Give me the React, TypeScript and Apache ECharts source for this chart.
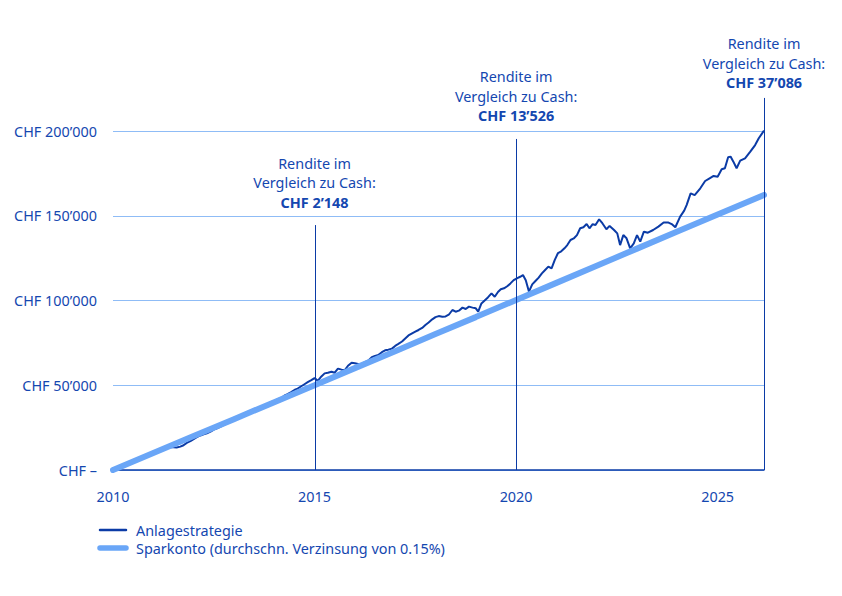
import React, { useEffect, useRef } from "react";
import * as echarts from "echarts";

const FONT = '"Noto Sans", "Open Sans", sans-serif';
const FS = 14.4;
const TEXT_COLOR = "#1447b0";
const DARK = "#0b3ba6";
const LIGHT = "#6aa6f7";
const GRID = "#8fbcf6";

const xTicks = [2010, 2015, 2020, 2025];
const yTicks = [0, 50000, 100000, 150000, 200000];

// Anlagestrategie: [year, CHF thousand]
const anlagestrategie: [number, number][] = [
  [2010.0, 0], [2010.08, 0.9], [2010.17, 1.7], [2010.25, 2.4], [2010.33, 3.1], [2010.42, 4.0],
  [2010.5, 4.8], [2010.58, 5.8], [2010.67, 6.6], [2010.75, 7.6], [2010.83, 8.3], [2010.92, 9.0],
  [2011.0, 10.0], [2011.08, 10.9], [2011.17, 11.6], [2011.25, 12.5], [2011.33, 13.2], [2011.42, 13.6],
  [2011.5, 13.4], [2011.58, 13.3], [2011.67, 13.8], [2011.75, 14.6], [2011.83, 16.0], [2011.92, 17.0],
  [2012.0, 18.2], [2012.08, 19.4], [2012.17, 20.4], [2012.25, 21.0], [2012.33, 21.6], [2012.42, 22.6],
  [2012.5, 23.8], [2012.58, 24.6], [2012.67, 25.6], [2012.75, 26.6], [2012.83, 27.4], [2012.92, 28.5],
  [2013.0, 29.8], [2013.08, 30.8], [2013.17, 31.8], [2013.25, 33.0], [2013.33, 34.2], [2013.42, 34.6],
  [2013.5, 34.8], [2013.58, 35.8], [2013.67, 36.8], [2013.75, 37.8], [2013.83, 39.0], [2013.92, 40.0],
  [2014.0, 40.8], [2014.08, 41.6], [2014.17, 42.6], [2014.25, 43.8], [2014.33, 44.8], [2014.42, 46.0],
  [2014.5, 47.2], [2014.58, 48.0], [2014.67, 49.4], [2014.75, 50.6], [2014.83, 51.8], [2014.92, 53.0],
  [2015.0, 54.2], [2015.08, 52.6], [2015.17, 55.2], [2015.25, 57.0], [2015.33, 57.4], [2015.42, 58.0],
  [2015.5, 57.4], [2015.58, 59.8], [2015.67, 59.2], [2015.75, 59.0], [2015.83, 61.5], [2015.92, 63.3],
  [2016.0, 63.0], [2016.08, 62.6], [2016.17, 62.5], [2016.25, 63.6], [2016.33, 64.5], [2016.42, 66.5],
  [2016.5, 67.3], [2016.58, 67.8], [2016.67, 69.5], [2016.75, 70.6], [2016.83, 71.0], [2016.92, 71.6],
  [2017.0, 73.2], [2017.08, 74.4], [2017.17, 75.8], [2017.25, 77.6], [2017.33, 79.4], [2017.42, 80.6],
  [2017.5, 81.6], [2017.58, 82.6], [2017.67, 83.8], [2017.75, 85.5], [2017.83, 87.0], [2017.92, 88.9],
  [2018.0, 90.2], [2018.08, 90.8], [2018.17, 90.4], [2018.25, 90.6], [2018.33, 91.6], [2018.42, 94.4],
  [2018.5, 93.4], [2018.58, 94.0], [2018.67, 95.8], [2018.75, 95.0], [2018.83, 96.4], [2018.92, 95.8],
  [2019.0, 95.4], [2019.06, 93.4], [2019.14, 98.3], [2019.22, 100.0], [2019.3, 101.8], [2019.39, 104.2],
  [2019.47, 102.2], [2019.55, 105.0], [2019.62, 106.6], [2019.7, 107.2], [2019.78, 108.4], [2019.86, 110.1],
  [2019.94, 112.0], [2020.02, 113.1], [2020.1, 114.0], [2020.17, 115.0], [2020.24, 112.0], [2020.32, 105.2],
  [2020.4, 109.5], [2020.48, 111.5], [2020.56, 113.5], [2020.64, 116.0], [2020.72, 118.0], [2020.8, 120.0],
  [2020.88, 119.0], [2020.96, 124.0], [2021.04, 128.0], [2021.12, 129.0], [2021.2, 130.8], [2021.27, 132.7],
  [2021.35, 135.7], [2021.43, 136.6], [2021.51, 138.6], [2021.59, 142.6], [2021.67, 143.2], [2021.75, 145.1],
  [2021.82, 142.6], [2021.9, 145.0], [2021.97, 144.5], [2022.06, 147.9], [2022.14, 145.6], [2022.24, 142.0],
  [2022.32, 144.0], [2022.43, 141.6], [2022.51, 139.6], [2022.58, 132.7], [2022.66, 138.6], [2022.74, 136.7],
  [2022.83, 130.8], [2022.92, 133.7], [2023.0, 138.6], [2023.08, 134.7], [2023.17, 140.6], [2023.27, 140.0],
  [2023.4, 141.6], [2023.53, 143.6], [2023.66, 146.0], [2023.78, 146.0], [2023.86, 145.1], [2023.95, 143.2],
  [2024.07, 149.5], [2024.17, 153.0], [2024.23, 156.3], [2024.33, 163.2], [2024.43, 162.2], [2024.57, 166.2],
  [2024.69, 170.5], [2024.8, 172.1], [2024.9, 173.5], [2025.0, 173.0], [2025.1, 177.4], [2025.18, 178.0],
  [2025.26, 184.5], [2025.32, 184.9], [2025.39, 181.9], [2025.47, 178.0], [2025.56, 182.5], [2025.68, 183.9],
  [2025.81, 187.8], [2025.93, 191.7], [2026.02, 195.7], [2026.15, 200.2],
];

// Sparkonto: [year, CHF thousand]
const sparkonto: [number, number][] = [
  [2010, 0], [2011, 10.0], [2012, 20.0], [2013, 30.0], [2014, 40.0], [2015, 50.0],
  [2016, 60.1], [2017, 70.1], [2018, 80.2], [2019, 90.2], [2020, 100.3], [2021, 110.4],
  [2022, 120.5], [2023, 130.6], [2024, 140.7], [2025, 150.8], [2026.15, 162.3],
];

const seriesNames = ["Anlagestrategie", "Sparkonto (durchschn. Verzinsung von 0.15%)"];

// Annotations
const annoYears = [2015, 2020, 2026.15];
const annoTopValues = [144500, 195300, 219500];
const annoAmounts = ["CHF 2\u2019148", "CHF 13\u2019526", "CHF 37\u2019086"];
const annoGaps = [23, 23, 15];
const annoLine1 = "Rendite im";
const annoLine2 = "Vergleich zu Cash:";

const X_MIN = 2010;
const X_MAX = 2026.15;

function fmtCHF(v: number): string {
  if (v === 0) return "CHF \u2013";
  const s = String(Math.round(v));
  return "CHF " + s.replace(/\B(?=(\d{3})+(?!\d))/g, "\u2019");
}

export default function App() {
  const ref = useRef<HTMLDivElement>(null);

  useEffect(() => {
    document.body.style.margin = "0";
    const chart = echarts.init(ref.current!, null, { renderer: "svg" });
    chart.setOption({
      animation: false,
      textStyle: { fontFamily: FONT },
      grid: { left: 113, right: 78, top: 131, bottom: 126, containLabel: false },
      xAxis: {
        type: "value",
        min: X_MIN,
        max: X_MAX,
        interval: 5,
        axisLine: { show: true, lineStyle: { color: DARK, width: 1.5 } },
        axisTick: { show: false },
        splitLine: { show: false },
        axisLabel: {
          margin: 19,
          fontSize: FS,
          color: TEXT_COLOR,
          fontFamily: FONT,
          formatter: (v: number) => (xTicks.indexOf(v) >= 0 ? String(v) : ""),
        },
      },
      yAxis: {
        type: "value",
        min: yTicks[0],
        max: yTicks[yTicks.length - 1],
        interval: 50000,
        axisLine: { show: false },
        axisTick: { show: false },
        splitLine: { show: true, lineStyle: { color: GRID, width: 1 } },
        axisLabel: {
          margin: 16,
          fontSize: FS,
          color: TEXT_COLOR,
          fontFamily: FONT,
          formatter: (v: number) => fmtCHF(v),
        },
      },
      series: [
        {
          name: seriesNames[0],
          type: "line",
          data: anlagestrategie.map(([x, y]) => [x, y * 1000]),
          showSymbol: false,
          symbol: "none",
          lineStyle: { color: DARK, width: 2 },
          itemStyle: { color: DARK },
          z: 3,
        },
        {
          name: seriesNames[1],
          type: "line",
          data: sparkonto.map(([x, y]) => [x, y * 1000]),
          showSymbol: false,
          symbol: "none",
          lineStyle: { color: LIGHT, width: 6, cap: "round" },
          itemStyle: { color: LIGHT },
          z: 4,
        },
      ],
    });

    const graphics: any[] = [];
    annoYears.forEach((yr, i) => {
      const bottom = chart.convertToPixel({ xAxisIndex: 0, yAxisIndex: 0 }, [yr, 0]) as number[];
      const top = chart.convertToPixel({ xAxisIndex: 0, yAxisIndex: 0 }, [yr, annoTopValues[i]]) as number[];
      const x = Math.round(bottom[0]) + 0.5;
      graphics.push({
        type: "line",
        shape: { x1: x, y1: top[1], x2: x, y2: bottom[1] },
        style: { stroke: DARK, lineWidth: 1 },
        z: 10,
      });
      const cy = top[1] - annoGaps[i];
      const lines = [
        { t: annoLine1, dy: -39, w: "normal" },
        { t: annoLine2, dy: -19.5, w: "normal" },
        { t: annoAmounts[i], dy: 0, w: "bold" },
      ];
      lines.forEach((l) => {
        graphics.push({
          type: "text",
          x: bottom[0],
          y: cy + l.dy,
          style: {
            text: l.t,
            fill: TEXT_COLOR,
            font: `${l.w} ${FS}px ${FONT}`,
            textAlign: "center",
            textVerticalAlign: "middle",
          },
          z: 10,
        });
      });
    });

    // legend (drawn as graphics)
    const legendItems = [
      { name: seriesNames[0], color: DARK, width: 2.5, y: 530 },
      { name: seriesNames[1], color: LIGHT, width: 5.5, y: 548 },
    ];
    legendItems.forEach((it) => {
      graphics.push({
        type: "line",
        shape: { x1: 100, y1: it.y, x2: 126, y2: it.y },
        style: { stroke: it.color, lineWidth: it.width, lineCap: "round" },
      });
      graphics.push({
        type: "text",
        x: 136,
        y: it.y,
        style: {
          text: it.name,
          fill: TEXT_COLOR,
          font: `normal ${FS}px ${FONT}`,
          textAlign: "left",
          textVerticalAlign: "middle",
        },
      });
    });

    chart.setOption({ graphic: graphics });

    return () => chart.dispose();
  }, []);

  return <div ref={ref} style={{ width: 842, height: 596 }} />;
}
